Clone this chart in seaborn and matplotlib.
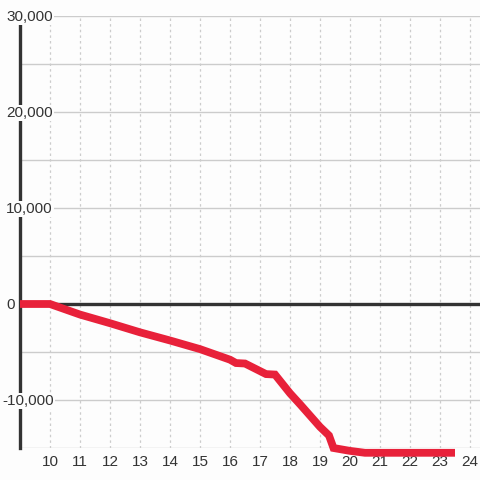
import numpy as np
import pandas as pd
import matplotlib
matplotlib.use("Agg")
import matplotlib.pyplot as plt
import matplotlib.transforms as mtransforms
import seaborn as sns

# values
hours = [9, 10, 11, 12, 13, 14, 15, 16, 16.2, 16.5, 17.2, 17.5, 18, 18.35,
         19, 19.3, 19.45, 20, 20.5, 23.5]
balance = [0, 0, -1100, -2000, -2950, -3800, -4700, -5800, -6150, -6200,
           -7300, -7350, -9300, -10500, -12800, -13700, -15000, -15300,
           -15500, -15500]
x_ticks = list(range(10, 25))
y_ticks = [30000, 20000, 10000, 0, -10000]
y_grid = list(range(-15000, 30001, 5000))

bg = "#fdfdfd"
red = "#e8213a"
dark = "#333333"
grid = "#cccccc"

sns.set_style("white")
plt.rcParams["font.family"] = ["Liberation Sans", "DejaVu Sans"]

df = pd.DataFrame({"hour": hours, "balance": balance})

fig = plt.figure(figsize=(4.8, 4.8), dpi=100, facecolor=bg)
ax = fig.add_axes([20 / 480, 32 / 480, 460 / 480, 432 / 480], facecolor=bg)

# grid
for v in y_grid:
    if v == 0:
        continue
    ax.axhline(v, color=grid, lw=1, zorder=1)
for v in x_ticks:
    ax.axvline(v, color=grid, lw=0.9, ls=(0, (2, 2.5)), zorder=1)
ax.axhline(0, color=dark, lw=2.4, zorder=2)

sns.lineplot(data=df, x="hour", y="balance", ax=ax, color=red, lw=5.6,
             zorder=4, clip_on=False, solid_capstyle="butt",
             solid_joinstyle="miter")

ax.set_xlim(9, 24 + 1 / 3)
ax.set_ylim(-15000, 30000)

for s in ["top", "right", "bottom"]:
    ax.spines[s].set_visible(False)
ax.spines["left"].set_color(dark)
ax.spines["left"].set_linewidth(2.4)
ax.spines["left"].set_zorder(3)

ax.set_xticks(x_ticks)
ax.set_xticklabels([str(t) for t in x_ticks], fontsize=11, color=dark)
ax.tick_params(axis="x", length=0, pad=5)
ax.set_yticks([])
ax.set_xlabel("")
ax.set_ylabel("")

# y labels sit on top of the axis line with a background box
ytrans = ax.get_yaxis_transform() + mtransforms.ScaledTranslation(0, -1 / 100, fig.dpi_scale_trans)
for v in y_ticks:
    px = 6 if v >= 0 else 2
    ax.text((px - 20) / 460, v, f"{v:,}", transform=ytrans,
            ha="left", va="center", fontsize=11, color=dark, zorder=6,
            clip_on=False,
            bbox=dict(facecolor=bg, edgecolor="none", pad=1))

fig.savefig("out.png", dpi=100, facecolor=bg)
